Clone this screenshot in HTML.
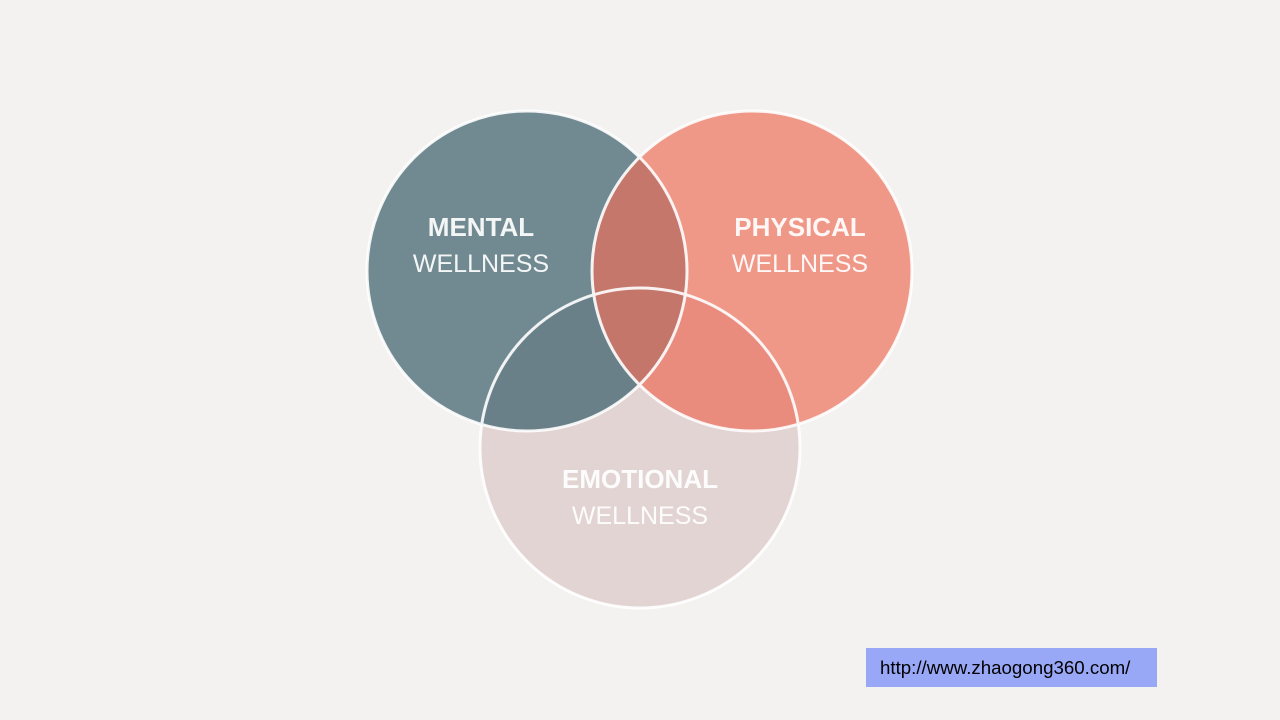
<!DOCTYPE html>
<html><head><meta charset="utf-8"><style>
body{margin:0;width:1280px;height:720px;background:#f3f2f0;position:relative;overflow:hidden;font-family:"Liberation Sans",sans-serif}
.lnk{position:absolute;left:866px;top:648px;width:291px;height:39px;background:#99a8f6;color:#000;font-size:18.7px;line-height:39px;padding-left:14px;box-sizing:border-box}
</style></head><body>
<svg width="1280" height="720" style="position:absolute;left:0;top:0">
<defs>
<clipPath id="cm"><circle cx="527" cy="271" r="160"/></clipPath>
<clipPath id="cp"><circle cx="752" cy="271" r="160"/></clipPath>
<clipPath id="ce"><circle cx="640" cy="448" r="160"/></clipPath>
</defs>
<circle cx="640" cy="448" r="160" fill="#e2d4d2"/>
<circle cx="527" cy="271" r="160" fill="#718a92"/>
<circle cx="752" cy="271" r="160" fill="#ef9888"/>
<circle cx="527" cy="271" r="160" fill="#c5776b" clip-path="url(#cp)"/>
<g clip-path="url(#ce)">
<circle cx="527" cy="271" r="160" fill="#6a8088"/>
<circle cx="752" cy="271" r="160" fill="#e98c7e"/>
<circle cx="527" cy="271" r="160" fill="#c4766a" clip-path="url(#cp)"/>
</g>
<g fill="none" stroke="#fff" stroke-width="3" opacity="0.9">
<circle cx="527" cy="271" r="160"/>
<circle cx="752" cy="271" r="160"/>
<circle cx="640" cy="448" r="160"/>
</g>
<g fill="#fff" fill-opacity="0.92" text-anchor="middle" font-family="Liberation Sans, sans-serif" font-size="25">
<text x="481" y="236" font-weight="bold" font-size="26">MENTAL</text>
<text x="481" y="272">WELLNESS</text>
<text x="800" y="236" font-weight="bold" font-size="26">PHYSICAL</text>
<text x="800" y="272">WELLNESS</text>
<text x="640" y="488" font-weight="bold" font-size="26">EMOTIONAL</text>
<text x="640" y="524">WELLNESS</text>
</g>
</svg>
<div class="lnk">http://www.zhaogong360.com/</div>
</body></html>
